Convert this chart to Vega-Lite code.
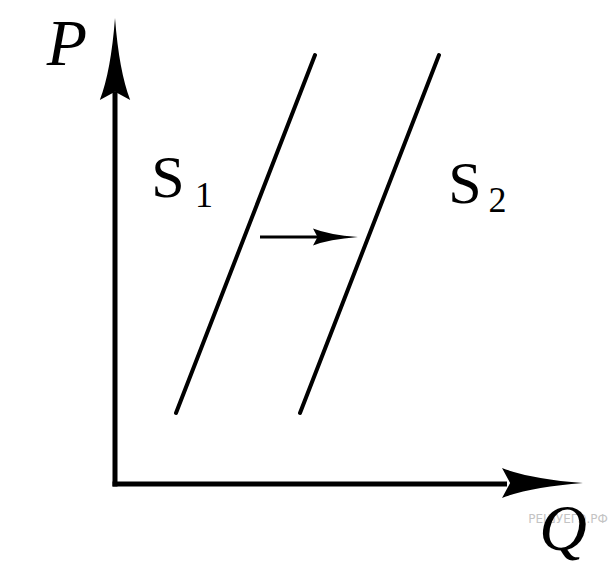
{
  "$schema": "https://vega.github.io/schema/vega-lite/v6.json",
  "width": 615,
  "height": 573,
  "padding": 0,
  "autosize": {"type": "none"},
  "background": "white",
  "config": {"view": {"stroke": null}},
  "datasets": {
    "segments": [
      {"name": "P-axis", "x": 0, "y": -0.25, "x2": 0, "y2": 39.2},
      {"name": "Q-axis", "x": -0.25, "y": 0, "x2": 39.2, "y2": 0},
      {"name": "S1", "x": 6.1, "y": 7.1, "x2": 20.0, "y2": 42.9},
      {"name": "S2", "x": 18.5, "y": 7.1, "x2": 32.4, "y2": 42.9},
      {"name": "shift", "x": 14.5, "y": 24.7, "x2": 20.3, "y2": 24.7}
    ],
    "heads": [
      {"name": "P-axis", "x": 0, "y": 42.5},
      {"name": "Q-axis", "x": 42.75, "y": 0.1},
      {"name": "shift", "x": 22.05, "y": 24.7}
    ],
    "labels": [
      {"role": "axis", "text": "P", "x": -4.8, "y": 41.9},
      {"role": "axis", "text": "Q", "x": 44.8, "y": -6.6},
      {"role": "curve", "text": "S", "x": 5.3, "y": 28.7},
      {"role": "curve", "text": "S", "x": 35.0, "y": 28.1},
      {"role": "sub", "text": "1", "x": 8.9, "y": 27.7},
      {"role": "sub", "text": "2", "x": 38.25, "y": 27.2},
      {"role": "mark", "text": "РЕШУЕГЭ.РФ", "x": 45.3, "y": -3.9}
    ]
  },
  "encoding": {
    "x": {"field": "x", "type": "quantitative", "scale": {"domain": [-11.5, 50], "nice": false, "zero": false}, "axis": null},
    "y": {"field": "y", "type": "quantitative", "scale": {"domain": [-8.9, 48.4], "nice": false, "zero": false}, "axis": null}
  },
  "layer": [
    {
      "data": {"name": "segments"},
      "transform": [{"filter": "indexof(['P-axis','Q-axis'], datum.name) >= 0"}],
      "mark": {"type": "rule", "color": "black", "strokeWidth": 5, "strokeCap": "butt"},
      "encoding": {"x2": {"field": "x2"}, "y2": {"field": "y2"}}
    },
    {
      "data": {"name": "segments"},
      "transform": [{"filter": "datum.name === 'S1' || datum.name === 'S2'"}],
      "mark": {"type": "rule", "color": "black", "strokeWidth": 4, "strokeCap": "round"},
      "encoding": {"x2": {"field": "x2"}, "y2": {"field": "y2"}}
    },
    {
      "data": {"name": "segments"},
      "transform": [{"filter": "datum.name === 'shift'"}],
      "mark": {"type": "rule", "color": "black", "strokeWidth": 3, "strokeCap": "butt"},
      "encoding": {"x2": {"field": "x2"}, "y2": {"field": "y2"}}
    },
    {
      "data": {"name": "heads"},
      "transform": [{"filter": "datum.name === 'P-axis'"}],
      "mark": {"type": "point", "filled": true, "color": "black", "opacity": 1, "strokeWidth": 0, "size": 6724, "angle": 0,
        "shape": "M0,-1 Q0.1,0.3 0.37,1 L0,0.8 L-0.37,1 Q-0.1,0.3 0,-1 Z"}
    },
    {
      "data": {"name": "heads"},
      "transform": [{"filter": "datum.name === 'Q-axis'"}],
      "mark": {"type": "point", "filled": true, "color": "black", "opacity": 1, "strokeWidth": 0, "size": 6561, "angle": 90,
        "shape": "M0,-1 Q0.1,0.3 0.37,1 L0,0.8 L-0.37,1 Q-0.1,0.3 0,-1 Z"}
    },
    {
      "data": {"name": "heads"},
      "transform": [{"filter": "datum.name === 'shift'"}],
      "mark": {"type": "point", "filled": true, "color": "black", "opacity": 1, "strokeWidth": 0, "size": 2025, "angle": 90,
        "shape": "M0,-1 Q0.1,0.3 0.38,1 L0,0.8 L-0.38,1 Q-0.1,0.3 0,-1 Z"}
    },
    {
      "data": {"name": "labels"},
      "transform": [{"filter": "datum.role === 'mark'"}],
      "mark": {"type": "text", "font": "DejaVu Sans", "fontSize": 12, "color": "#c4c4c4", "align": "center", "baseline": "alphabetic"},
      "encoding": {"text": {"field": "text"}}
    },
    {
      "data": {"name": "labels"},
      "transform": [{"filter": "datum.role === 'axis'"}],
      "mark": {"type": "text", "font": "Liberation Serif", "fontStyle": "italic", "fontSize": 66, "color": "black", "align": "center", "baseline": "alphabetic"},
      "encoding": {"text": {"field": "text"}}
    },
    {
      "data": {"name": "labels"},
      "transform": [{"filter": "datum.role === 'curve'"}],
      "mark": {"type": "text", "font": "Liberation Serif", "fontSize": 60, "color": "black", "align": "center", "baseline": "alphabetic"},
      "encoding": {"text": {"field": "text"}}
    },
    {
      "data": {"name": "labels"},
      "transform": [{"filter": "datum.role === 'sub'"}],
      "mark": {"type": "text", "font": "Liberation Serif", "fontSize": 36, "color": "black", "align": "center", "baseline": "alphabetic"},
      "encoding": {"text": {"field": "text"}}
    }
  ]
}
